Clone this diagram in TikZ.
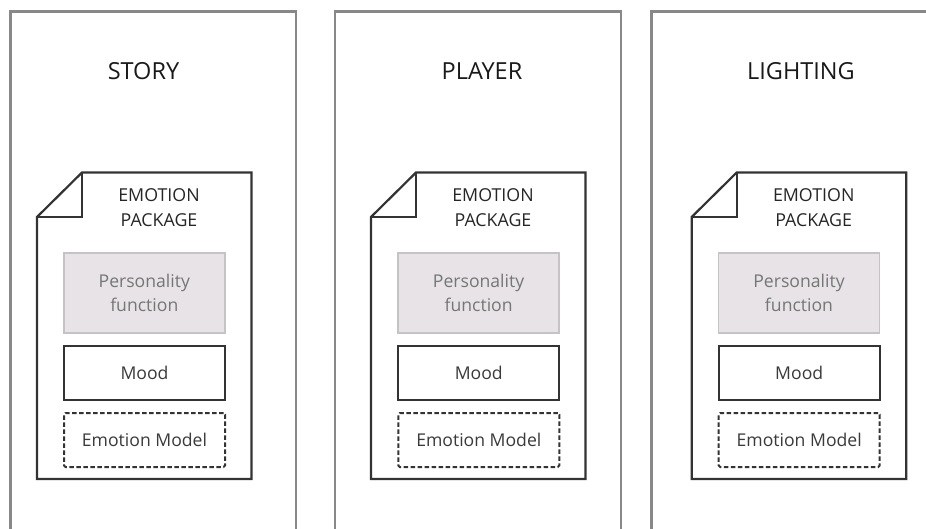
\documentclass[tikz,border=0pt]{standalone}
\usepackage{fontspec}
\setmainfont{Open Sans}
\definecolor{panelline}{HTML}{888888}
\definecolor{docline}{HTML}{333333}
\definecolor{pfill}{HTML}{E7E3E7}
\definecolor{pline}{HTML}{C6C3C6}
\definecolor{ptext}{HTML}{767676}
\definecolor{btext}{HTML}{3A3A3A}
\tikzset{
  paneltitle/.style={font=\fontsize{23.5}{28}\selectfont, text=black!90, inner sep=0pt},
  doctitle/.style={font=\fontsize{17.8}{25}\selectfont, text=black!85, align=center, inner sep=0pt},
  persbox/.style={draw=pline, fill=pfill, line width=1.6pt, minimum width=161pt, minimum height=80pt,
    align=center, text=ptext, font=\fontsize{17.6}{23.5}\selectfont, inner sep=0pt},
  moodbox/.style={draw=docline, line width=2pt, minimum width=161pt, minimum height=54pt,
    text=btext, font=\fontsize{17.6}{20}\selectfont, inner sep=0pt},
  modelbox/.style={draw=docline, line width=2pt, dash pattern=on 4.5pt off 2.5pt, rounded corners=1.5pt,
    minimum width=161pt, minimum height=54pt, text=btext, font=\fontsize{17.6}{20}\selectfont, inner sep=0pt},
  panelframe/.style={draw=panelline, line width=2.5pt},
  docframe/.style={draw=docline, line width=2.2pt, line join=miter, fill=white},
}
\begin{document}
\begin{tikzpicture}[x=1pt, y=-1pt]
\useasboundingbox (0,0) rectangle (926,529);
\clip (0,0) rectangle (926,529);
\fill[white] (0,0) rectangle (926,529);
% panel left edge, panel width, document left edge, inner box left edge, title centre, label, index
\foreach \px/\pw/\dx/\bx/\tx/\lab/\n in {
  10.5/285.5/37/63/143.5/STORY/1,
  335/286/371/397.3/482/PLAYER/2,
  651.7/286/691.7/717.7/801/LIGHTING/3} {
  % open-bottomed panel frame
  \draw[panelframe] (\px,540) -- (\px,11.5) -- (\px+\pw,11.5) -- (\px+\pw,540);
  \node[paneltitle] (title\n) at (\tx,71) {\lab};
  % document shape with folded corner
  \coordinate (dtl\n) at (\dx+45,172.5);
  \coordinate (dtr\n) at (\dx+214.5,172.5);
  \coordinate (dbr\n) at (\dx+214.5,479);
  \coordinate (dbl\n) at (\dx,479);
  \coordinate (dfl\n) at (\dx,217);
  \coordinate (dfc\n) at (\dx+45,217);
  \draw[docframe] (dtl\n) -- (dtr\n) -- (dbr\n) -- (dbl\n) -- (dfl\n) -- cycle;
  \draw[docframe, fill=none] (dtl\n) -- (dfc\n) -- (dfl\n);
  \node[doctitle] (pkg\n) at (\dx+122,208) {EMOTION\\PACKAGE};
  \node[persbox, anchor=north west] (pers\n) at (\bx,252) {Personality\\function};
  \node[moodbox, anchor=north west] (mood\n) at (\bx,345) {Mood};
  \node[modelbox, anchor=north west] (model\n) at (\bx,412) {Emotion Model};
}
\end{tikzpicture}
\end{document}
